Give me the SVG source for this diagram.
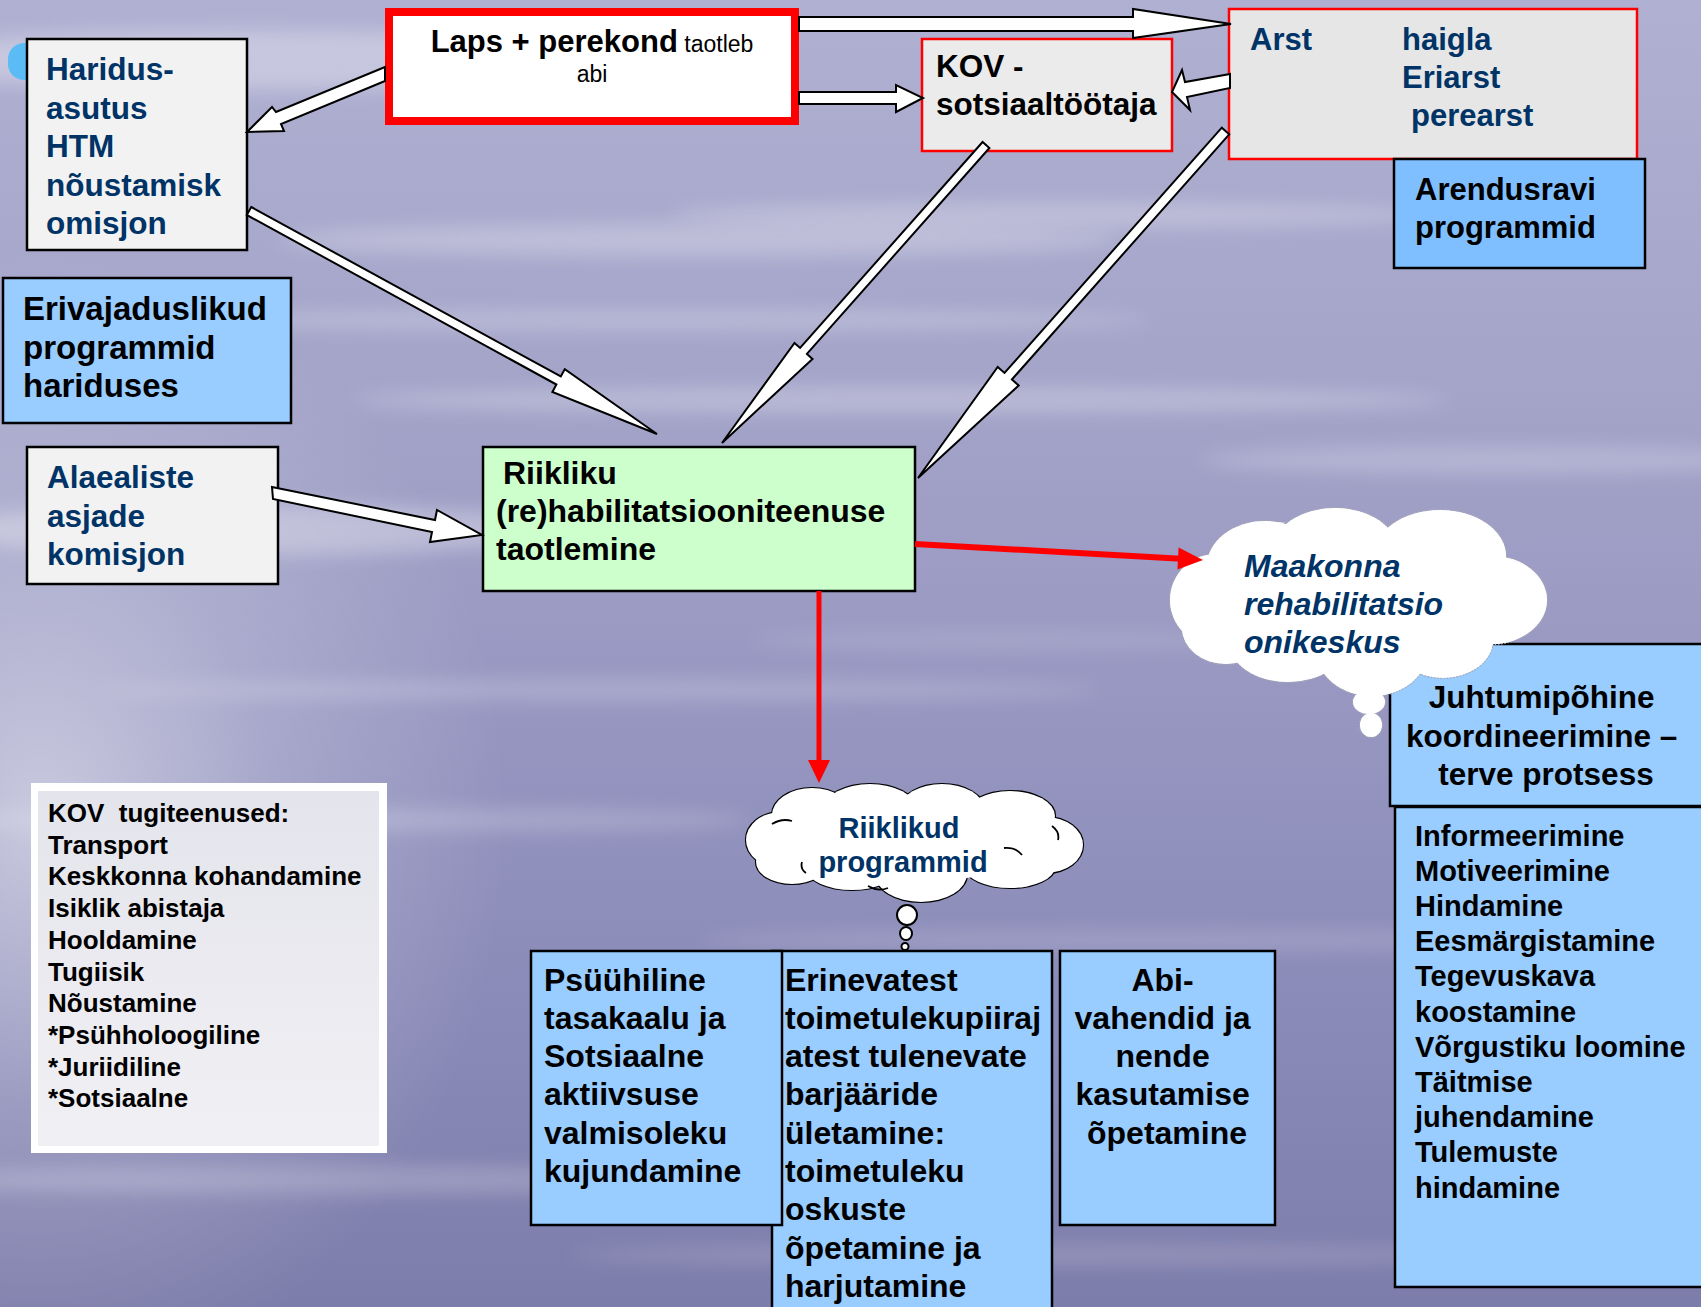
<svg xmlns="http://www.w3.org/2000/svg" width="1701" height="1307" viewBox="0 0 1701 1307">
<defs>
  <linearGradient id="bg" x1="0" y1="0" x2="0" y2="1">
    <stop offset="0" stop-color="#b0b0d2"/>
    <stop offset="0.3" stop-color="#a4a4c9"/>
    <stop offset="0.55" stop-color="#9696c1"/>
    <stop offset="0.8" stop-color="#8989b7"/>
    <stop offset="1" stop-color="#7d7dab"/>
  </linearGradient>
  <radialGradient id="glow" gradientUnits="userSpaceOnUse" cx="40" cy="820" r="520" gradientTransform="translate(40 820) scale(0.9 1.1) translate(-40 -820)">
    <stop offset="0" stop-color="#ffffff" stop-opacity="0.5"/>
    <stop offset="0.5" stop-color="#ffffff" stop-opacity="0.18"/>
    <stop offset="1" stop-color="#ffffff" stop-opacity="0"/>
  </radialGradient>
  <linearGradient id="kovfill" x1="0" y1="0" x2="0" y2="1">
    <stop offset="0" stop-color="#e4e4ec"/>
    <stop offset="1" stop-color="#f0f0f4"/>
  </linearGradient>
  <filter id="blur" x="-20%" y="-200%" width="140%" height="500%">
    <feGaussianBlur stdDeviation="9"/>
  </filter>
  <style>
    .box{stroke:#000;stroke-width:2.5}
    .redbox{stroke:#ff0000;stroke-width:2.5}
    .t{font-family:"Liberation Sans",Arial,Helvetica,sans-serif;font-weight:bold}
    .reg{font-weight:normal}
    .navy{fill:#003366}
    .blk{fill:#000}
    .arr{fill:#fff;stroke:#000;stroke-width:2;stroke-linejoin:miter}
    .redline{stroke:#ff0000;fill:none}
    .redhead{fill:#ff0000}
    .streak{fill:#fff;filter:url(#blur)}
    .mkStroke{fill:#fff;stroke:#a8a8b8;stroke-width:2.2;stroke-dasharray:1.6 1.6}
    .mkFill{fill:#fff;stroke:none}
    .rpStroke{fill:#fff;stroke:#000;stroke-width:2.2}
    .rpFill{fill:#fff;stroke:none}
    .inner{fill:none;stroke:#000;stroke-width:1.8}
  </style>
  <g id="mkShape">
    <ellipse cx="1216" cy="600" rx="46" ry="46"/>
    <ellipse cx="1265" cy="566" rx="58" ry="45"/>
    <ellipse cx="1335" cy="550" rx="62" ry="42"/>
    <ellipse cx="1440" cy="556" rx="66" ry="46"/>
    <ellipse cx="1492" cy="600" rx="55" ry="44"/>
    <ellipse cx="1443" cy="640" rx="50" ry="38"/>
    <ellipse cx="1372" cy="650" rx="56" ry="46"/>
    <ellipse cx="1288" cy="640" rx="60" ry="42"/>
    <ellipse cx="1226" cy="628" rx="44" ry="36"/>
    <ellipse cx="1369" cy="702" rx="16" ry="12"/>
    <ellipse cx="1371" cy="725" rx="11" ry="12"/>
  </g>
  <g id="rpShape">
    <ellipse cx="781" cy="840" rx="35" ry="28"/>
    <ellipse cx="812" cy="815" rx="40" ry="27"/>
    <ellipse cx="870" cy="809" rx="46" ry="25"/>
    <ellipse cx="942" cy="809" rx="42" ry="25"/>
    <ellipse cx="1010" cy="816" rx="45" ry="25"/>
    <ellipse cx="1046" cy="845" rx="37" ry="28"/>
    <ellipse cx="1010" cy="867" rx="45" ry="21"/>
    <ellipse cx="921" cy="874" rx="46" ry="28"/>
    <ellipse cx="852" cy="869" rx="45" ry="21"/>
    <ellipse cx="792" cy="862" rx="36" ry="22"/>
  </g>
</defs>

<g id="background">
  <rect x="0" y="0" width="1701" height="1307" fill="url(#bg)"/>
  <ellipse class="streak" cx="250" cy="60" rx="380" ry="30" opacity="0.3"/>
  <ellipse class="streak" cx="700" cy="240" rx="420" ry="16" opacity="0.25"/>
  <ellipse class="streak" cx="1050" cy="215" rx="380" ry="12" opacity="0.25"/>
  <ellipse class="streak" cx="650" cy="320" rx="500" ry="10" opacity="0.22"/>
  <ellipse class="streak" cx="900" cy="400" rx="550" ry="12" opacity="0.25"/>
  <ellipse class="streak" cx="1500" cy="460" rx="300" ry="14" opacity="0.2"/>
  <ellipse class="streak" cx="250" cy="530" rx="330" ry="25" opacity="0.3"/>
  <ellipse class="streak" cx="600" cy="690" rx="500" ry="10" opacity="0.2"/>
  <ellipse class="streak" cx="1000" cy="640" rx="250" ry="8" opacity="0.15"/>
  <ellipse class="streak" cx="350" cy="820" rx="400" ry="12" opacity="0.2"/>
  <ellipse class="streak" cx="1150" cy="940" rx="450" ry="10" opacity="0.15"/>
  <ellipse class="streak" cx="300" cy="1180" rx="420" ry="14" opacity="0.2"/>
  <ellipse class="streak" cx="1050" cy="1255" rx="480" ry="10" opacity="0.15"/>
  <rect x="0" y="0" width="1701" height="1307" fill="url(#glow)"/>
</g>

<g id="node-haridus">
  <rect x="8" y="43" width="40" height="37" rx="16" fill="#5bbcf5"/>
  <rect x="27" y="39" width="220" height="211" fill="#f2f2f2" class="box"/>
  <text class="t navy" font-size="31.5">
    <tspan x="46" y="80">Haridus-</tspan>
    <tspan x="46" y="118.5">asutus</tspan>
    <tspan x="46" y="157">HTM</tspan>
    <tspan x="46" y="195.5">nõustamisk</tspan>
    <tspan x="46" y="234">omisjon</tspan>
  </text>
</g>

<g id="node-laps">
  <rect x="389" y="12" width="406" height="109" fill="#ffffff" stroke="#ff0000" stroke-width="8"/>
  <text class="t blk" x="592" y="52" text-anchor="middle" font-size="31">Laps + perekond<tspan class="reg" font-size="23"> taotleb</tspan></text>
  <text class="t reg blk" x="592" y="82" text-anchor="middle" font-size="23">abi</text>
</g>

<g id="node-kov">
  <rect x="922" y="39" width="250" height="112" fill="#ebebeb" class="redbox"/>
  <text class="t blk" font-size="31.5">
    <tspan x="936" y="77">KOV -</tspan>
    <tspan x="936" y="115">sotsiaaltöötaja</tspan>
  </text>
</g>

<g id="node-arst">
  <rect x="1229" y="9" width="408" height="150" fill="#e6e6e6" class="redbox"/>
  <text class="t navy" font-size="31">
    <tspan x="1250" y="50">Arst</tspan>
    <tspan x="1402" y="50">haigla</tspan>
    <tspan x="1402" y="88">Eriarst</tspan>
    <tspan x="1411" y="126">perearst</tspan>
  </text>
</g>

<g id="node-arendusravi">
  <rect x="1394" y="159" width="251" height="109" fill="#80bfff" class="box"/>
  <text class="t blk" font-size="31">
    <tspan x="1415" y="200">Arendusravi</tspan>
    <tspan x="1415" y="238">programmid</tspan>
  </text>
</g>

<g id="node-erivajaduslikud">
  <rect x="3" y="278" width="288" height="145" fill="#99ccff" class="box"/>
  <text class="t blk" font-size="33">
    <tspan x="23" y="320">Erivajaduslikud</tspan>
    <tspan x="23" y="358.5">programmid</tspan>
    <tspan x="23" y="397">hariduses</tspan>
  </text>
</g>

<g id="node-alaealiste">
  <rect x="27" y="447" width="251" height="137" fill="#f2f2f2" class="box"/>
  <text class="t navy" font-size="31.5">
    <tspan x="47" y="488">Alaealiste</tspan>
    <tspan x="47" y="526.5">asjade</tspan>
    <tspan x="47" y="565">komisjon</tspan>
  </text>
</g>

<g id="node-taotlemine">
  <rect x="483" y="447" width="432" height="144" fill="#ccffcc" class="box"/>
  <text class="t blk" font-size="32">
    <tspan x="503" y="484">Riikliku</tspan>
    <tspan x="496" y="522">(re)habilitatsiooniteenuse</tspan>
    <tspan x="496" y="560">taotlemine</tspan>
  </text>
</g>

<g id="node-kov-tugiteenused">
  <rect x="31" y="783" width="356" height="370" fill="#ffffff"/>
  <rect x="38" y="791" width="341" height="355" fill="url(#kovfill)"/>
  <text class="t blk" font-size="26">
    <tspan x="48" y="822">KOV &#160;tugiteenused:</tspan>
    <tspan x="48" y="853.7">Transport</tspan>
    <tspan x="48" y="885.4">Keskkonna kohandamine</tspan>
    <tspan x="48" y="917.1">Isiklik abistaja</tspan>
    <tspan x="48" y="948.8">Hooldamine</tspan>
    <tspan x="48" y="980.5">Tugiisik</tspan>
    <tspan x="48" y="1012.2">Nõustamine</tspan>
    <tspan x="48" y="1043.9">*Psühholoogiline</tspan>
    <tspan x="48" y="1075.6">*Juriidiline</tspan>
    <tspan x="48" y="1107.3">*Sotsiaalne</tspan>
  </text>
</g>

<g id="node-juhtumipohine">
  <rect x="1390" y="644" width="320" height="162" fill="#99ccff" class="box"/>
  <text class="t blk" font-size="31.5" text-anchor="middle">
    <tspan x="1546" y="708">Juhtumipõhine</tspan>
    <tspan x="1546" y="747">koordineerimine –</tspan>
    <tspan x="1546" y="785">terve protsess</tspan>
  </text>
</g>

<g id="node-tegevused">
  <rect x="1395" y="807" width="315" height="480" fill="#99ccff" class="box"/>
  <text class="t blk" font-size="29">
    <tspan x="1415" y="845.5">Informeerimine</tspan>
    <tspan x="1415" y="880.7">Motiveerimine</tspan>
    <tspan x="1415" y="915.9">Hindamine</tspan>
    <tspan x="1415" y="951.1">Eesmärgistamine</tspan>
    <tspan x="1415" y="986.3">Tegevuskava</tspan>
    <tspan x="1415" y="1021.5">koostamine</tspan>
    <tspan x="1415" y="1056.7">Võrgustiku loomine</tspan>
    <tspan x="1415" y="1091.9">Täitmise</tspan>
    <tspan x="1415" y="1127.1">juhendamine</tspan>
    <tspan x="1415" y="1162.3">Tulemuste</tspan>
    <tspan x="1415" y="1197.5">hindamine</tspan>
  </text>
</g>

<g id="node-maakonna">
  <use href="#mkShape" class="mkStroke"/>
  <use href="#mkShape" class="mkFill"/>
  <ellipse cx="1360" cy="600" rx="150" ry="62" fill="#fff"/>
  <text class="t navy" font-size="32" font-style="italic">
    <tspan x="1244" y="577">Maakonna</tspan>
    <tspan x="1244" y="615">rehabilitatsio</tspan>
    <tspan x="1244" y="653">onikeskus</tspan>
  </text>
</g>

<g id="node-erinevatest">
  <rect x="772" y="951" width="280" height="370" fill="#99ccff" class="box"/>
  <text class="t blk" font-size="32">
    <tspan x="785" y="990.5">Erinevatest</tspan>
    <tspan x="785" y="1028.8">toimetulekupiiraj</tspan>
    <tspan x="785" y="1067.1">atest tulenevate</tspan>
    <tspan x="785" y="1105.4">barjääride</tspan>
    <tspan x="785" y="1143.7">ületamine:</tspan>
    <tspan x="785" y="1182">toimetuleku</tspan>
    <tspan x="785" y="1220.3">oskuste</tspan>
    <tspan x="785" y="1258.6">õpetamine ja</tspan>
    <tspan x="785" y="1296.9">harjutamine</tspan>
  </text>
</g>

<g id="node-psuuhiline">
  <rect x="531" y="951" width="251" height="274" fill="#99ccff" class="box"/>
  <text class="t blk" font-size="32">
    <tspan x="544" y="990.5">Psüühiline</tspan>
    <tspan x="544" y="1028.8">tasakaalu ja</tspan>
    <tspan x="544" y="1067.1">Sotsiaalne</tspan>
    <tspan x="544" y="1105.4">aktiivsuse</tspan>
    <tspan x="544" y="1143.7">valmisoleku</tspan>
    <tspan x="544" y="1182">kujundamine</tspan>
  </text>
</g>

<g id="node-abivahendid">
  <rect x="1060" y="951" width="215" height="274" fill="#99ccff" class="box"/>
  <text class="t blk" font-size="32" text-anchor="middle">
    <tspan x="1167" y="990.5">Abi-</tspan>
    <tspan x="1167" y="1028.8">vahendid ja</tspan>
    <tspan x="1167" y="1067.1">nende</tspan>
    <tspan x="1167" y="1105.4">kasutamise</tspan>
    <tspan x="1167" y="1143.7">õpetamine</tspan>
  </text>
</g>

<g id="node-riiklikud-programmid">
  <use href="#rpShape" class="rpStroke"/>
  <use href="#rpShape" class="rpFill"/>
  <ellipse cx="915" cy="843" rx="135" ry="38" fill="#fff"/>
  <path class="inner" d="M772 824 q10 -6 20 -3 M1052 826 q8 6 6 14 M1004 848 q12 -1 18 7 M868 886 q10 6 20 2 M806 873 q-6 -4 -4 -11"/>
  <ellipse cx="907" cy="915" rx="10" ry="10" fill="#fff" stroke="#000" stroke-width="2"/>
  <ellipse cx="906" cy="933.5" rx="6" ry="6.5" fill="#fff" stroke="#000" stroke-width="2"/>
  <ellipse cx="905" cy="946.5" rx="3.5" ry="3.5" fill="#fff" stroke="#000" stroke-width="2"/>
  <text class="t navy" font-size="29" text-anchor="middle">
    <tspan x="903" y="838">Riiklikud</tspan>
    <tspan x="903" y="872">programmid</tspan>
  </text>
</g>

<g id="connectors">
  <polygon class="arr" points="385,67 276,112 272,107 247,132 284,131 281,124 385,81"/>
  <polygon class="arr" points="251.2,207 560.8,376.5 564.8,369.1 657,434 552.4,391.9 556.4,384.5 246.8,215"/>
  <polygon class="arr" points="982.6,142 800.1,347.9 794.5,342.9 722,443 812.5,358.9 806.9,353.9 989.4,148"/>
  <polygon class="arr" points="1221.8,127.7 1004.5,372.9 997.7,366.9 918,478 1018.7,385.5 1011.9,379.5 1229.2,134.3"/>
  <polygon class="arr" points="799,17 1133,17 1133,9 1231,24 1133,38 1133,31 799,31"/>
  <polygon class="arr" points="799,92 896,92 896,85 923,98 896,112 896,104 799,104"/>
  <polygon class="arr" points="1230,74 1185,82 1182,70 1172,92 1190,110 1187,97 1230,88"/>
  <polygon class="arr" points="272,487 435,520 437,510 482,535 430,542 432,532 273,499"/>
  <line class="redline" x1="819" y1="591" x2="819" y2="762" stroke-width="5"/>
  <polygon class="redhead" points="808,760 830,760 819,783"/>
  <line class="redline" x1="915" y1="544" x2="1181" y2="558.8" stroke-width="6"/>
  <polygon class="redhead" points="1177.4,569.6 1178.6,547.6 1203,560"/>
</g>
</svg>
